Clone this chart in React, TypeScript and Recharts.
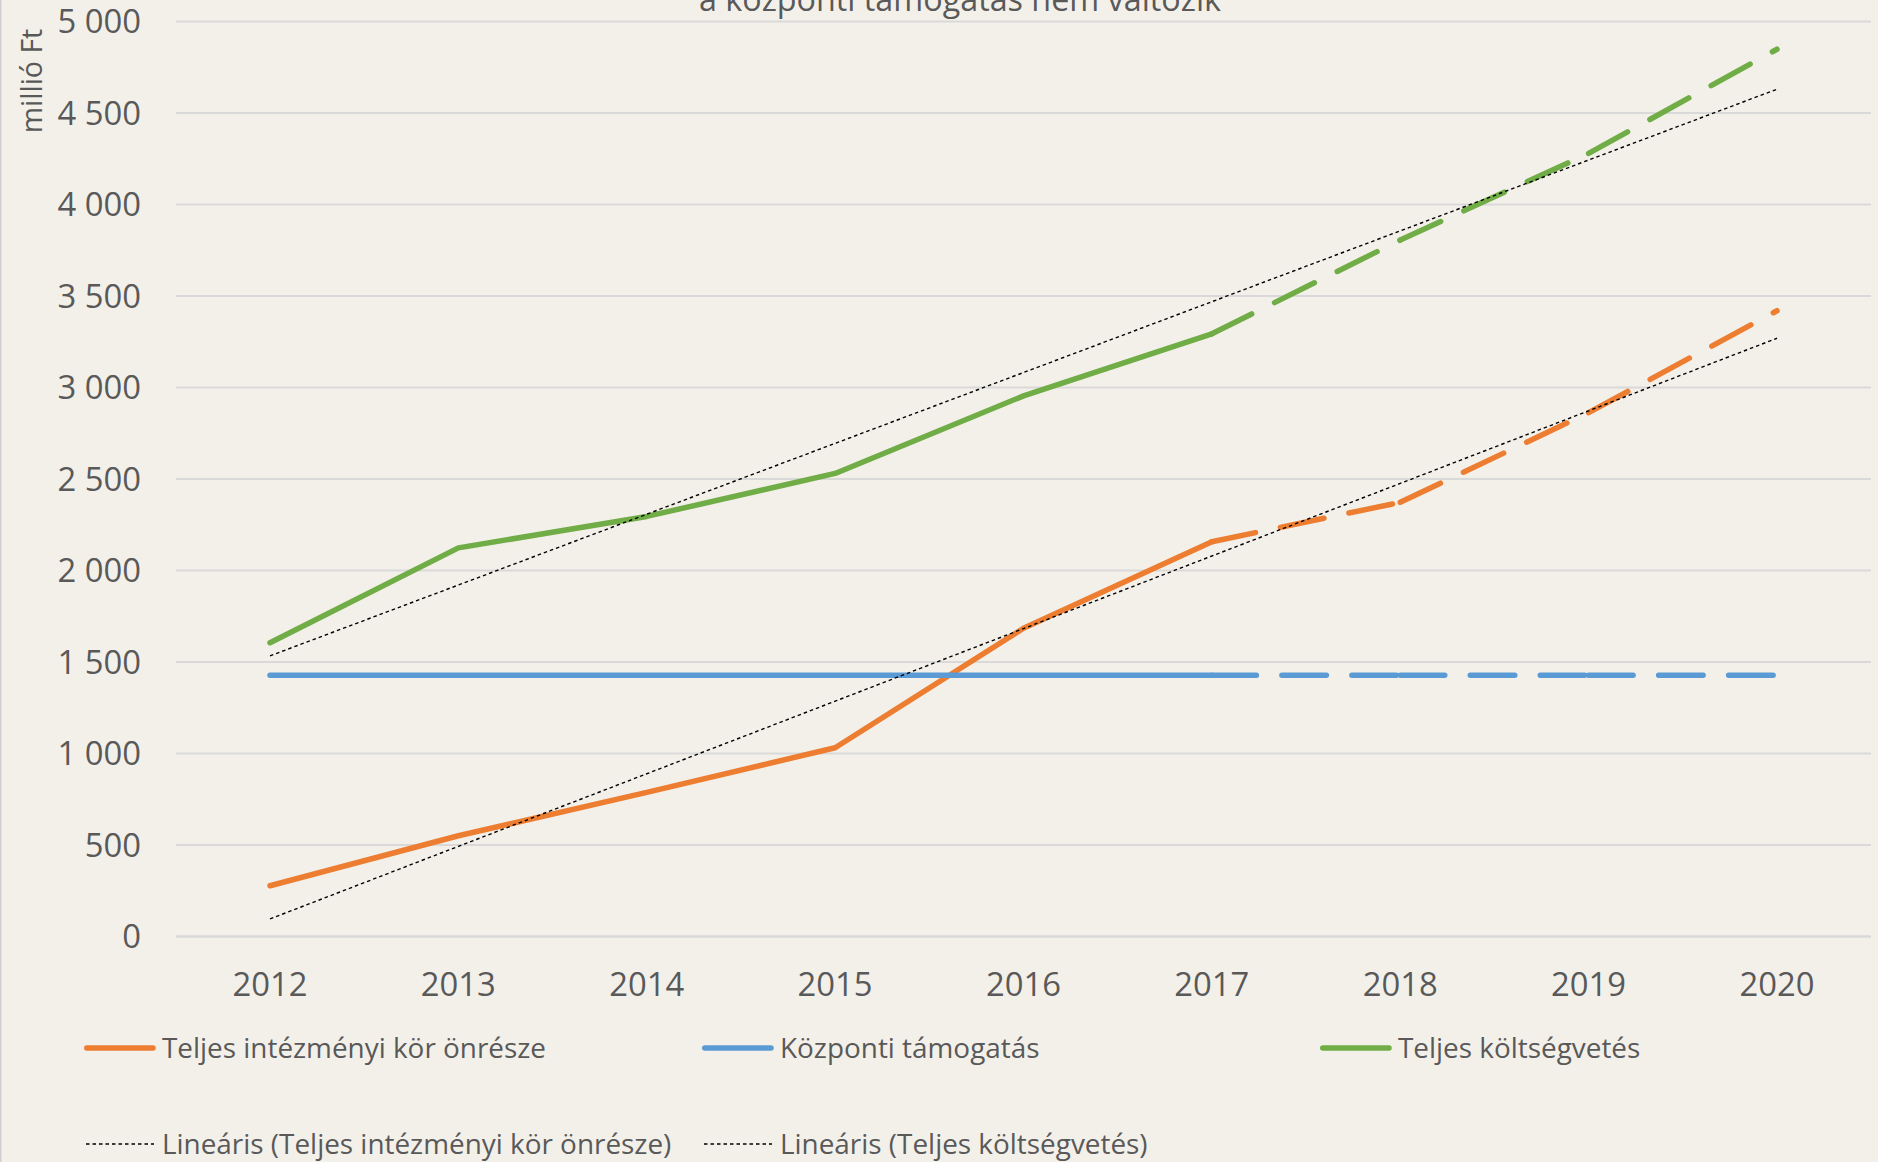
import React from 'react';
import { LineChart, Line, XAxis, YAxis, CartesianGrid } from 'recharts';

// ---------- data ----------
const years = ['2012', '2013', '2014', '2015', '2016', '2017', '2018', '2019', '2020'];
const onresz = [278, 551, 788, 1032, 1685, 2158, 2373, 2863, 3420];
const kozponti = [1428, 1428, 1428, 1428, 1428, 1428, 1428, 1428, 1428];
const teljes = [1606, 2124, 2296, 2531, 2955, 3294, 3806, 4280, 4849];
const yTicks = [0, 500, 1000, 1500, 2000, 2500, 3000, 3500, 4000, 4500, 5000];
const lastActualIndex = 5; // 2017: solid up to here, forecast (dashed) afterwards

const TITLE = 'a központi támogatás nem változik';
const Y_LABEL = 'millió Ft';
const TREND_PREFIX = 'Lineáris';

const seriesNames = ['Teljes intézményi kör önrésze', 'Központi támogatás', 'Teljes költségvetés'];
const seriesKeys = ['onresz', 'kozponti', 'teljes'];
const seriesValues = [onresz, kozponti, teljes];
const seriesColors = ['#ED7D31', '#5B9BD5', '#70AD47'];
const seriesHasTrend = [true, false, true];

// ---------- styles ----------
const W = 1878;
const H = 1162;
const BG = '#F3F0EA';
const TEXT = '#595959';
const GRID = '#D9D9D9';
const FONT = '"Open Sans", sans-serif';
const LINE_W = 5.5;
const DASH = '44.5 25.5';
const TREND_DASH = '3.5 3';
const TICK_FS = 32.8;
const LEGEND_FS = 27.9;

// least-squares linear trend (Excel "Lineáris" trendline)
function linearFit(values: number[]) {
  const n = values.length;
  const mx = (n - 1) / 2;
  const my = values.reduce((a, b) => a + b, 0) / n;
  let sxy = 0;
  let sxx = 0;
  values.forEach((v, i) => {
    sxy += (i - mx) * (v - my);
    sxx += (i - mx) * (i - mx);
  });
  const b = sxy / sxx;
  return { a: my - b * mx, b };
}

const fits = seriesValues.map((v) => linearFit(v));

const data = years.map((year, i) => {
  const row: Record<string, any> = { year };
  seriesKeys.forEach((key, s) => {
    const vals = seriesValues[s];
    row[`${key}_solid`] = i <= lastActualIndex ? vals[i] : null;
    for (let k = lastActualIndex; k < years.length - 1; k++) {
      row[`${key}_d${k}`] = i === k || i === k + 1 ? vals[i] : null;
    }
    if (seriesHasTrend[s]) row[`${key}_trend`] = fits[s].a + fits[s].b * i;
  });
  return row;
});

const fmt = (v: number) => String(v).replace(/\B(?=(\d{3})+(?!\d))/g, ' ');

// legend layout
const legendCols = [84, 702, 1320];
const legendRows = [1048, 1144];

export default function App() {
  const lines: React.ReactNode[] = [];
  seriesKeys.forEach((key, s) => {
    lines.push(
      <Line
        key={`${key}_solid`}
        dataKey={`${key}_solid`}
        type="linear"
        stroke={seriesColors[s]}
        strokeWidth={LINE_W}
        strokeLinecap="round"
        strokeLinejoin="round"
        dot={false}
        activeDot={false}
        isAnimationActive={false}
        connectNulls={false}
      />
    );
    for (let k = lastActualIndex; k < years.length - 1; k++) {
      lines.push(
        <Line
          key={`${key}_d${k}`}
          dataKey={`${key}_d${k}`}
          type="linear"
          stroke={seriesColors[s]}
          strokeWidth={LINE_W}
          strokeDasharray={DASH}
          strokeLinecap="round"
          dot={false}
          activeDot={false}
          isAnimationActive={false}
          connectNulls={false}
        />
      );
    }
  });
  seriesKeys.forEach((key, s) => {
    if (!seriesHasTrend[s]) return;
    lines.push(
      <Line
        key={`${key}_trend`}
        dataKey={`${key}_trend`}
        type="linear"
        stroke="#000000"
        strokeWidth={1.4}
        strokeDasharray={TREND_DASH}
        dot={false}
        activeDot={false}
        isAnimationActive={false}
      />
    );
  });

  const legendItems: { label: string; color: string; trend: boolean }[] = [];
  seriesKeys.forEach((_, s) => legendItems.push({ label: seriesNames[s], color: seriesColors[s], trend: false }));
  const trendItems = seriesKeys
    .map((_, s) => s)
    .filter((s) => seriesHasTrend[s])
    .map((s) => ({ label: `${TREND_PREFIX} (${seriesNames[s]})`, color: '#000000', trend: true }));

  const renderLegendItem = (item: { label: string; color: string; trend: boolean }, col: number, row: number) => {
    const x = legendCols[col];
    const y = legendRows[row];
    return (
      <g key={`${row}-${col}`}>
        {item.trend ? (
          <line x1={x + 2} x2={x + 70} y1={y} y2={y} stroke="#000" strokeWidth={1.4} strokeDasharray={TREND_DASH} />
        ) : (
          <line x1={x + 2.75} x2={x + 69} y1={y} y2={y} stroke={item.color} strokeWidth={LINE_W} strokeLinecap="round" />
        )}
        <text x={x + 78} y={y + 10} fontSize={LEGEND_FS} fill={TEXT} fontFamily={FONT}>
          {item.label}
        </text>
      </g>
    );
  };

  return (
    <div
      style={{
        position: 'absolute',
        left: 0,
        top: 0,
        width: W,
        height: H,
        background: BG,
        overflow: 'hidden',
      }}
    >
      <div style={{ position: 'absolute', left: 0, top: 0 }}>
        <LineChart width={W} height={H} data={data} margin={{ top: 21.6, right: 7, bottom: 165.4, left: 0 }}>
          <CartesianGrid vertical={false} stroke={GRID} strokeWidth={2} />
          <XAxis
            dataKey="year"
            height={60}
            padding={{ left: 94, right: 94 }}
            axisLine={{ stroke: GRID, strokeWidth: 2 }}
            tickLine={false}
            tickSize={0}
            tickMargin={36.5}
            tick={{ fill: TEXT, fontSize: TICK_FS, fontFamily: FONT }}
            interval={0}
          />
          <YAxis
            width={176}
            domain={[0, 5000]}
            ticks={yTicks}
            tickFormatter={fmt}
            axisLine={false}
            tickLine={false}
            tickSize={0}
            tickMargin={35}
            tick={{ fill: TEXT, fontSize: TICK_FS, fontFamily: FONT }}
            interval={0}
          />
          {lines}
        </LineChart>
      </div>
      <svg
        width={W}
        height={H}
        style={{ position: 'absolute', left: 0, top: 0, pointerEvents: 'none' }}
      >
        <line x1={0.75} x2={0.75} y1={0} y2={H} stroke="#D0D0D0" strokeWidth={1.5} />
        <text x={960} y={11} textAnchor="middle" fontSize={32.3} fill={TEXT} fontFamily={FONT}>
          {TITLE}
        </text>
        <text
          x={0}
          y={0}
          transform="translate(42 81) rotate(-90)"
          textAnchor="middle"
          fontSize={28.5}
          fill={TEXT}
          fontFamily={FONT}
        >
          {Y_LABEL}
        </text>
        {legendItems.map((it, i) => renderLegendItem(it, i, 0))}
        {trendItems.map((it, i) => renderLegendItem(it, i, 1))}
      </svg>
    </div>
  );
}
